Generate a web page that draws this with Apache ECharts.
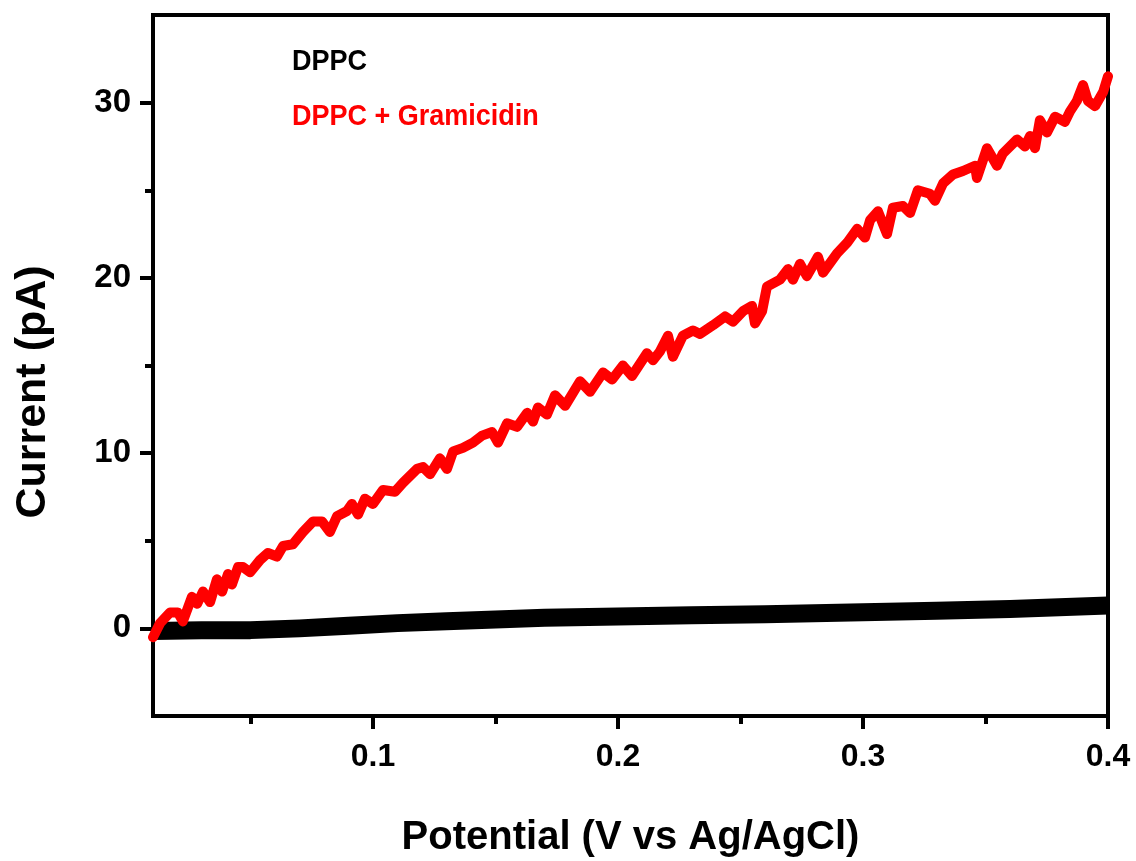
<!DOCTYPE html>
<html>
<head>
<meta charset="utf-8">
<script src="https://cdn.jsdelivr.net/npm/echarts@6/dist/echarts.min.js"></script>
<style>
html,body{margin:0;padding:0;background:#fff;}
#c{width:1136px;height:861px;}
</style>
</head>
<body>
<div id="c"></div>
<script>
// ---- data ----
const xLabels = [0.1, 0.2, 0.3, 0.4];
const xMinor = [0.05, 0.15, 0.25, 0.35];
const yLabels = [0, 10, 20, 30];
const yMinor = [5, 15, 25];

const dppcPotential = [0.0102, 0.03, 0.05, 0.07, 0.09, 0.11, 0.13, 0.15, 0.17, 0.2, 0.23, 0.26, 0.3, 0.33, 0.36, 0.38, 0.4];
const dppcCurrent   = [-0.15, -0.1, -0.1, 0.0, 0.15, 0.3, 0.4, 0.5, 0.6, 0.68, 0.75, 0.8, 0.92, 1.0, 1.1, 1.2, 1.3];

const gramPotential = [0.0102,0.0131,0.0171,0.0204,0.0224,0.0261,0.0282,0.0306,0.0335,0.0363,0.0384,0.0408,0.0424,0.0449,0.0469,0.0498,0.0539,0.0571,0.0608,0.0633,0.0673,0.0714,0.0755,0.0792,0.0824,0.0853,0.0894,0.0914,0.0939,0.0967,0.1000,0.1041,0.1090,0.1122,0.1180,0.1204,0.1233,0.1273,0.1302,0.1327,0.1367,0.1408,0.1445,0.1486,0.1510,0.1547,0.1588,0.1629,0.1653,0.1673,0.1710,0.1743,0.1784,0.1845,0.1886,0.1939,0.1976,0.2020,0.2057,0.2118,0.2143,0.2171,0.2204,0.2224,0.2265,0.2306,0.2335,0.2388,0.2437,0.2469,0.2510,0.2547,0.2559,0.2588,0.2608,0.2661,0.2694,0.2714,0.2743,0.2771,0.2816,0.2837,0.2894,0.2935,0.2976,0.3008,0.3029,0.3061,0.3098,0.3122,0.3163,0.3192,0.3224,0.3273,0.3294,0.3327,0.3367,0.3408,0.3457,0.3465,0.3506,0.3547,0.3571,0.3629,0.3661,0.3682,0.3702,0.3722,0.3751,0.3784,0.3824,0.3845,0.3873,0.3898,0.3918,0.3947,0.3980,0.4000];
const gramCurrent   = [-0.5,0.3,0.9,0.9,0.4,1.8,1.4,2.1,1.5,2.8,2.1,3.1,2.5,3.5,3.5,3.2,3.9,4.3,4.1,4.7,4.8,5.5,6.1,6.1,5.5,6.4,6.7,7.1,6.5,7.4,7.1,7.9,7.8,8.3,9.1,9.2,8.8,9.7,9.1,10.1,10.3,10.6,11.0,11.2,10.6,11.7,11.5,12.3,11.8,12.6,12.2,13.3,12.7,14.1,13.5,14.6,14.2,15.0,14.4,15.7,15.3,15.8,16.7,15.5,16.7,17.0,16.8,17.3,17.8,17.5,18.1,18.4,17.4,18.1,19.5,19.9,20.5,19.9,20.8,20.1,21.2,20.3,21.4,22.0,22.8,22.3,23.3,23.8,22.5,24.0,24.1,23.7,25.0,24.8,24.4,25.4,25.9,26.1,26.4,25.7,27.4,26.4,27.1,27.9,27.5,28.1,27.4,29.0,28.3,29.2,28.9,29.5,30.1,31.0,30.1,29.8,30.6,31.5];

const legendNames = ['DPPC', 'DPPC + Gramicidin'];
const xTitle = 'Potential (V vs Ag/AgCl)';
const yTitle = 'Current (pA)';

// ---- chart ----
const chart = echarts.init(document.getElementById('c'), null, {renderer: 'canvas'});
const FONT = 'Liberation Sans, Arial, sans-serif';
const axisLine = {show: true, onZero: false, lineStyle: {color: '#000', width: 4}};
const xRange = {min: 0.0102, max: 0.4};
const yRange = {min: -5, max: 35};
const legendFont = 'bold 30px "Liberation Sans", Arial, sans-serif';

const option = {
  animation: false,
  backgroundColor: '#fff',
  grid: {left: 153, right: 28, top: 15, bottom: 145, containLabel: false, outerBoundsMode: 'none',
         show: true, borderColor: '#000', borderWidth: 4, backgroundColor: 'transparent'},
  xAxis: [
    Object.assign({
      type: 'value', position: 'bottom',
      axisLine: axisLine,
      axisTick: {show: true, customValues: xLabels, length: 13, lineStyle: {color: '#000', width: 4}},
      axisLabel: {show: true, customValues: xLabels, formatter: v => v.toFixed(1), color: '#000', fontSize: 32, fontWeight: 'bold', fontFamily: FONT, margin: 25},
      splitLine: {show: false},
      name: xTitle, nameLocation: 'middle', nameGap: 102,
      nameTextStyle: {color: '#000', fontSize: 40, fontWeight: 'bold', fontFamily: FONT}
    }, xRange),
    Object.assign({
      type: 'value', position: 'bottom',
      axisLine: {show: false, onZero: false},
      axisTick: {show: true, customValues: xMinor, length: 8, lineStyle: {color: '#000', width: 4}},
      axisLabel: {show: false},
      splitLine: {show: false}
    }, xRange)
  ],
  yAxis: [
    Object.assign({
      type: 'value', position: 'left',
      axisLine: axisLine,
      axisTick: {show: true, customValues: yLabels, length: 13, lineStyle: {color: '#000', width: 4}},
      axisLabel: {show: true, customValues: yLabels, color: '#000', fontSize: 33, fontWeight: 'bold', fontFamily: FONT, margin: 22},
      splitLine: {show: false}
    }, yRange),
    Object.assign({
      type: 'value', position: 'left',
      axisLine: {show: false, onZero: false},
      axisTick: {show: true, customValues: yMinor, length: 8, lineStyle: {color: '#000', width: 4}},
      axisLabel: {show: false},
      splitLine: {show: false}
    }, yRange)
  ],
  graphic: [
    {type: 'text', left: 292, top: 47, scaleX: 0.9, style: {text: legendNames[0], fill: '#000', font: legendFont}},
    {type: 'text', left: 292, top: 102, scaleX: 0.9, style: {text: legendNames[1], fill: '#ff0000', font: legendFont}},
    {type: 'text', x: 33, y: 392, rotation: Math.PI / 2,
     style: {text: yTitle, fill: '#000', font: 'bold 43px "Liberation Sans", Arial, sans-serif', align: 'center', verticalAlign: 'middle'}}
  ],
  series: [
    {
      name: legendNames[0], type: 'line', xAxisIndex: 0, yAxisIndex: 0,
      data: dppcPotential.map((x, i) => [x, dppcCurrent[i]]),
      showSymbol: false, symbol: 'none', clip: false,
      lineStyle: {color: '#000', width: 18, cap: 'butt', join: 'round'}
    },
    {
      name: legendNames[1], type: 'line', xAxisIndex: 0, yAxisIndex: 0,
      data: gramPotential.map((x, i) => [x, gramCurrent[i]]),
      showSymbol: false, symbol: 'none', clip: false,
      lineStyle: {color: '#ff0000', width: 10, cap: 'round', join: 'round'}
    }
  ]
};
chart.setOption(option);
</script>
</body>
</html>
